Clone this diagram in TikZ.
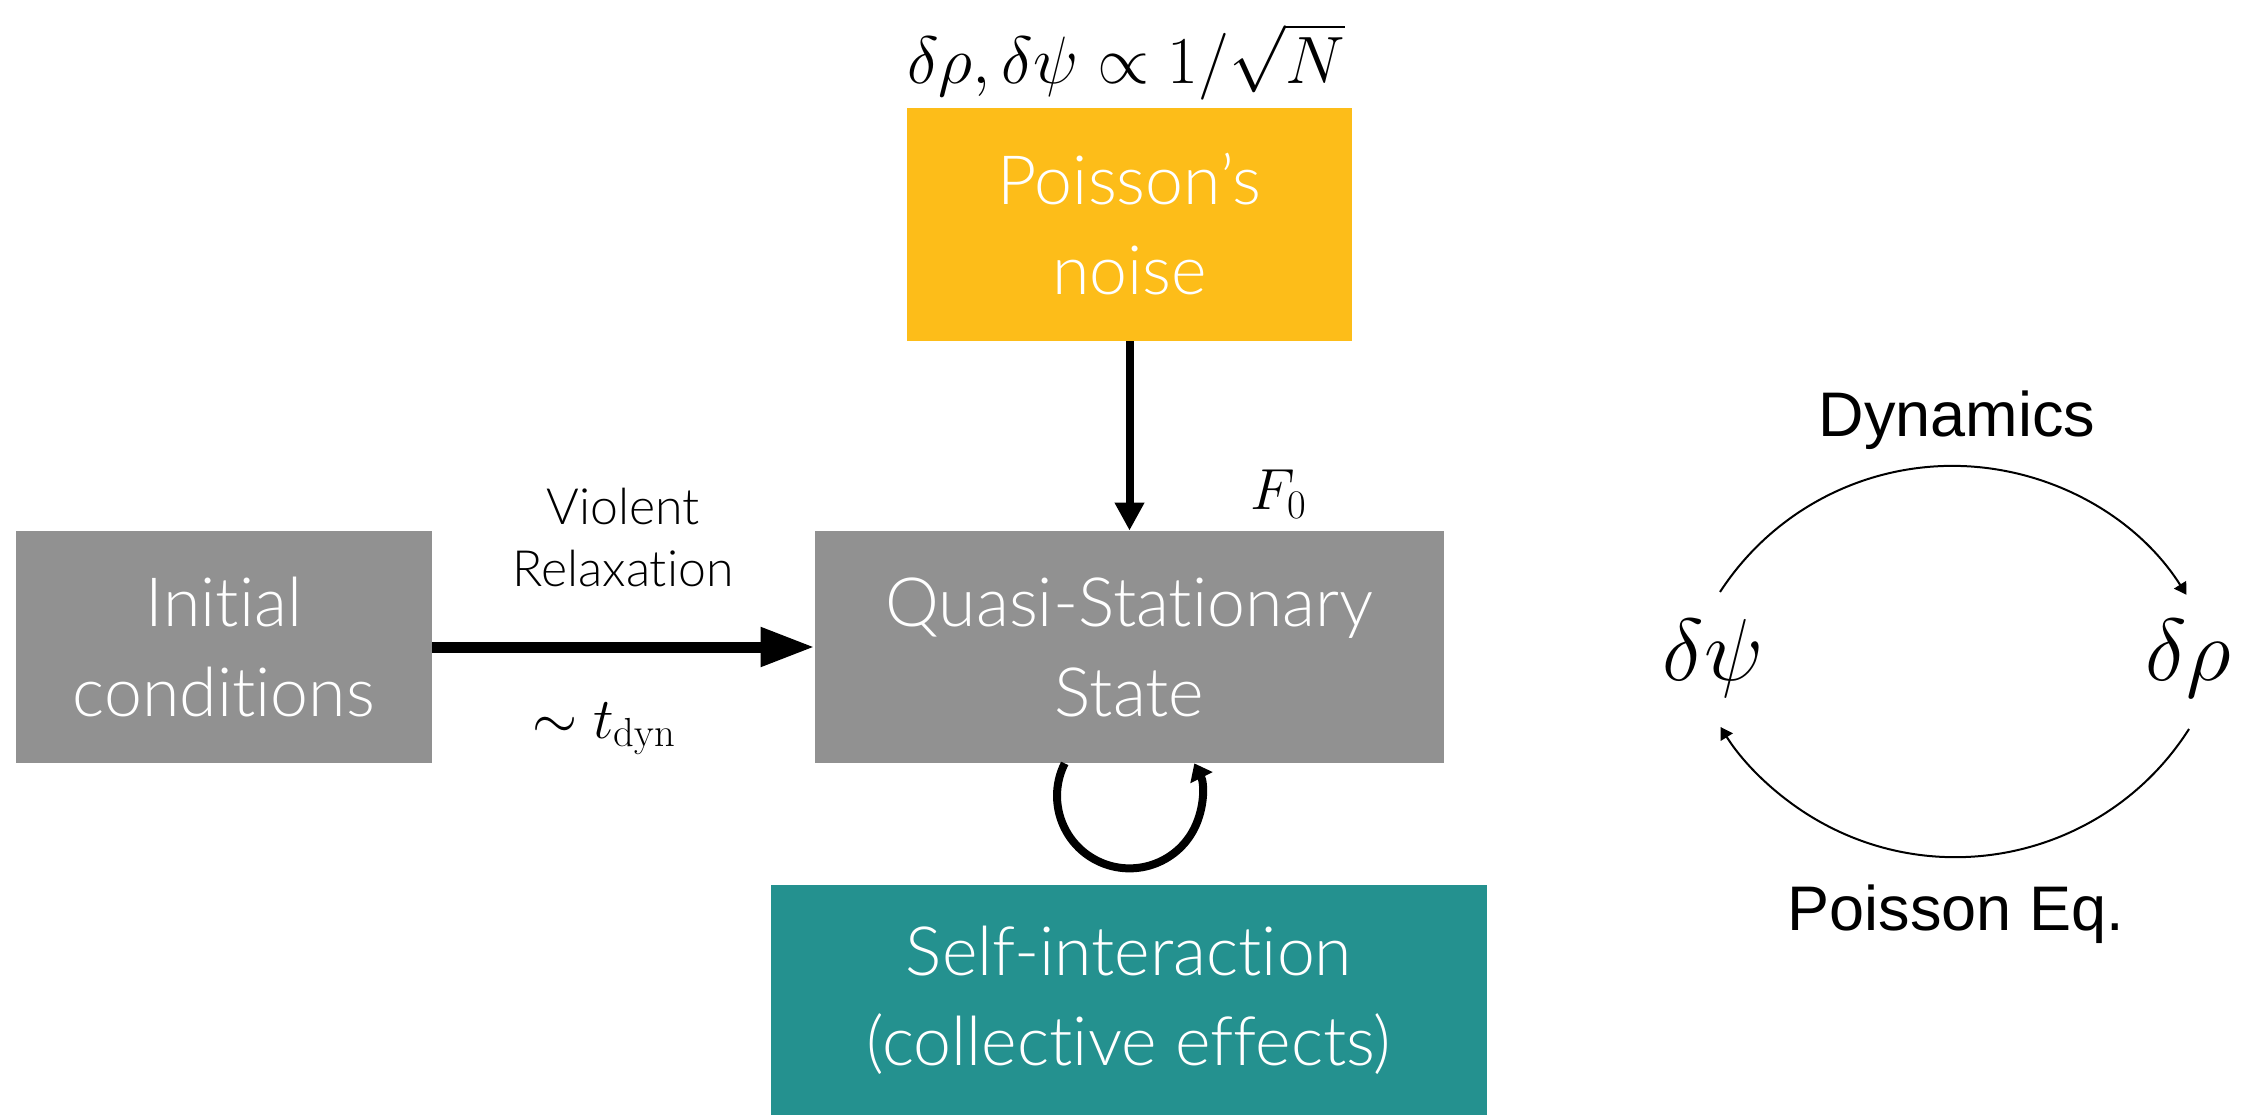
\RequirePackage{fix-cm}
\documentclass[tikz,border=0pt]{standalone}
\usepackage{fontspec}
\usetikzlibrary{arrows.meta}
\newfontfamily\boxfont{Lato Light}[Ligatures=NoCommon]
\newfontfamily\helv{Liberation Sans}
\definecolor{qssgrey}{RGB}{145,145,145}
\definecolor{noiseorange}{RGB}{253,189,25}
\definecolor{selfteal}{RGB}{36,145,143}
\tikzset{
  box/.style={rectangle, inner sep=0pt, align=center, text=white,
    font=\boxfont\fontsize{34}{45}\selectfont},
  smalllabel/.style={inner sep=0pt, align=center,
    font=\boxfont\fontsize{25}{31}\selectfont},
  cyclelabel/.style={inner sep=0pt, font=\helv\fontsize{31.5}{36}\selectfont},
  mathlabel/.style={inner sep=0pt, font=\fontsize{29}{34}\selectfont},
  biglabel/.style={inner sep=0pt, font=\fontsize{33.5}{40}\selectfont},
  hugelabel/.style={inner sep=0pt, font=\fontsize{44}{50}\selectfont},
  thickarrow/.style={line width=5.5pt, -{Triangle[length=27pt,width=18.5pt]}},
  midarrow/.style={line width=4pt, -{Triangle[length=14pt,width=14pt]}},
  looparrow/.style={line width=4pt, -{Triangle[length=8pt,width=12pt]}},
  thinarrow/.style={line width=1pt, -{Triangle[length=6pt,width=7pt]}}
}
\begin{document}
\begin{tikzpicture}[x=0.5pt, y=0.5pt]
  \useasboundingbox (0,0) rectangle (2241,1115);

  % main boxes
  \node[box, fill=qssgrey, minimum width=208pt, minimum height=116pt]
    (init) at (224,468) {Initial\\conditions};
  \node[box, fill=qssgrey, minimum width=314.5pt, minimum height=116pt]
    (qss) at (1129.5,468) {Quasi-Stationary\\State};
  \node[box, fill=noiseorange, minimum width=222.5pt, minimum height=116.5pt]
    (noise) at (1129.5,890.5) {Poisson’s\\noise};
  \node[box, fill=selfteal, minimum width=358pt, minimum height=115pt]
    (self) at (1129,115) {Self-interaction\\(collective effects)};

  % labels
  \node[biglabel, anchor=base] (noiseamp) at (1126,1031)
    {$\delta\rho, \delta\psi \propto 1/\sqrt{N}$};
  \node[mathlabel, anchor=base west] (fzero) at (1250,605) {$F_0$};
  \node[smalllabel, anchor=south] (violent) at (623,528) {Violent\\Relaxation};
  \node[mathlabel, anchor=base] (tdyn) at (604,377) {$\sim t_{\mathrm{dyn}}$};

  % connectors
  \draw[thickarrow] (init.east) -- (qss.west);
  \draw[midarrow] (noise.south) -- (qss.north);
  \draw[looparrow] ([xshift=-32.4pt]qss.south)
    arc[start angle=153.4, end angle=386.6, radius=36.25pt];

  % perturbation cycle
  \node[hugelabel, anchor=base] (dpsi) at (1713,435) {$\delta\psi$};
  \node[hugelabel, anchor=base] (drho) at (2188,435) {$\delta\rho$};
  \node[cyclelabel, anchor=base] (dyn) at (1957,678) {Dynamics};
  \node[cyclelabel, anchor=base] (peq) at (1956,185) {Poisson Eq.};
  \draw[thinarrow] ([shift={(3.5pt,44pt)}]dpsi.base)
    arc[start angle=147, end angle=32.3, radius=138.5pt];
  \draw[thinarrow] ([shift={(0.5pt,-24.5pt)}]drho.base)
    arc[start angle=-32.5, end angle=-148, radius=138.5pt];
\end{tikzpicture}
\end{document}
